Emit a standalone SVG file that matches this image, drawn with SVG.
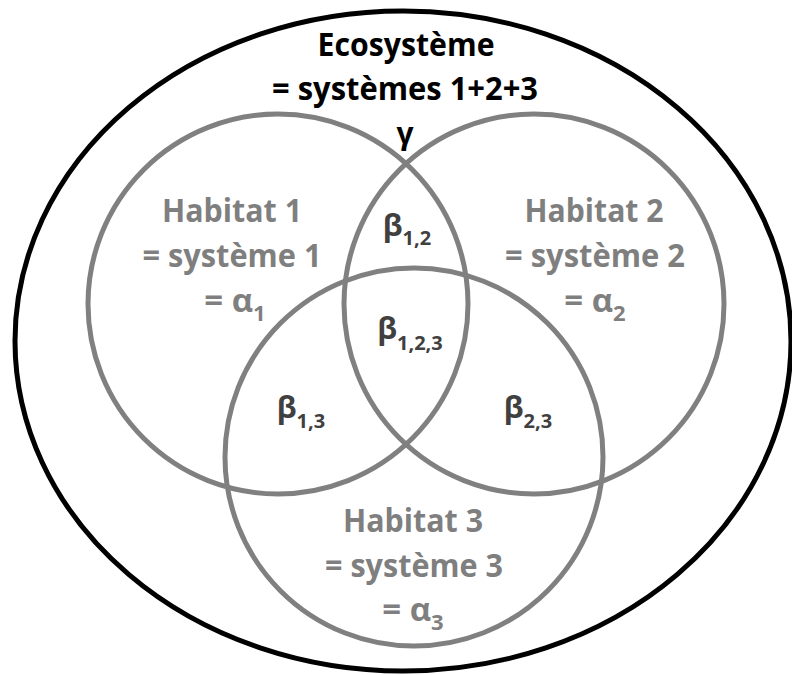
<svg xmlns="http://www.w3.org/2000/svg" width="792" height="675" viewBox="0 0 792 675">
<style>
text{font-family:"Open Sans","Noto Sans","DejaVu Sans",sans-serif;font-weight:bold;text-anchor:middle}
.t{font-size:33px;fill:#000}
.h{font-size:33px;fill:#7f7f7f}
.b{font-size:30px;fill:#404040}
.hab{fill:none;stroke:#808080;stroke-width:5}
.eco{fill:none;stroke:#000;stroke-width:5}
</style>
<rect width="792" height="675" fill="#fff"/>
<g id="connectors"/>
<g id="ecosystem">
<ellipse class="eco" cx="403" cy="341" rx="388" ry="330"/>
<text class="t" x="406" y="56" textLength="177" lengthAdjust="spacingAndGlyphs">Ecosystème</text>
<text class="t" x="405" y="100" textLength="266" lengthAdjust="spacingAndGlyphs">= systèmes 1+2+3</text>
<text class="t" x="405" y="144" style="font-size:30px">γ</text>
</g>
<g id="habitat1">
<circle class="hab" cx="278" cy="304" r="190"/>
<text class="h" x="232" y="222" textLength="140" lengthAdjust="spacingAndGlyphs">Habitat 1</text>
<text class="h" x="232" y="267" textLength="179" lengthAdjust="spacingAndGlyphs">= système 1</text>
<text class="h" x="235" y="312">= α<tspan dy="9" style="font-size:22px">1</tspan></text>
</g>
<g id="habitat2">
<circle class="hab" cx="534" cy="304" r="190"/>
<text class="h" x="594" y="222" textLength="139" lengthAdjust="spacingAndGlyphs">Habitat 2</text>
<text class="h" x="595" y="267" textLength="180" lengthAdjust="spacingAndGlyphs">= système 2</text>
<text class="h" x="595" y="312">= α<tspan dy="9" style="font-size:22px">2</tspan></text>
</g>
<g id="habitat3">
<circle class="hab" cx="414" cy="457" r="189"/>
<text class="h" x="413" y="532" textLength="140" lengthAdjust="spacingAndGlyphs">Habitat 3</text>
<text class="h" x="414" y="577" textLength="178" lengthAdjust="spacingAndGlyphs">= système 3</text>
<text class="h" x="413" y="621">= α<tspan dy="9" style="font-size:22px">3</tspan></text>
</g>
<g id="beta12"><text class="b" x="407" y="236">β<tspan dy="9" style="font-size:20px">1,2</tspan></text></g>
<g id="beta123"><text class="b" x="410" y="339">β<tspan dy="11" style="font-size:20px">1,2,3</tspan></text></g>
<g id="beta13"><text class="b" x="301" y="418">β<tspan dy="10" style="font-size:20px">1,3</tspan></text></g>
<g id="beta23"><text class="b" x="528" y="418">β<tspan dy="10" style="font-size:20px">2,3</tspan></text></g>
</svg>
